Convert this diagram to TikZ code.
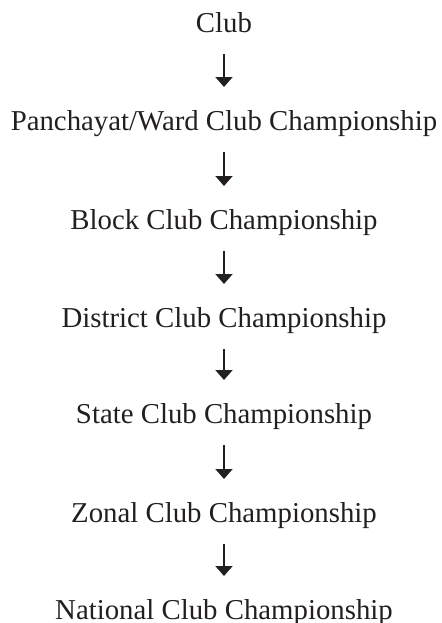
\documentclass[tikz,border=0pt]{standalone}
\usepackage{fontspec}
\setmainfont{Liberation Serif}
\usetikzlibrary{arrows.meta}
\definecolor{ink}{HTML}{231F20}
\begin{document}
\begin{tikzpicture}[x=0.5pt,y=-0.5pt,
  lvl/.style={anchor=base, inner sep=0pt, text=ink, font=\fontsize{14.4pt}{17pt}\selectfont},
  arr/.style={draw=ink, line width=1pt, -{Triangle[width=8.5pt,length=5pt]}, shorten <=11pt, shorten >=21.5pt}]
\useasboundingbox (0,0) rectangle (441,623);
\node[lvl] (n1) at (224,32) {Club};
\node[lvl] (n2) at (224,130) {Panchayat/Ward Club Championship};
\node[lvl] (n3) at (224,229) {Block Club Championship};
\node[lvl] (n4) at (224,327) {District Club Championship};
\node[lvl] (n5) at (224,423) {State Club Championship};
\node[lvl] (n6) at (224,522) {Zonal Club Championship};
\node[lvl] (n7) at (224,619) {National Club Championship};
\draw[arr] (n1.base) -- (n2.base);
\draw[arr] (n2.base) -- (n3.base);
\draw[arr] (n3.base) -- (n4.base);
\draw[arr] (n4.base) -- (n5.base);
\draw[arr] (n5.base) -- (n6.base);
\draw[arr] (n6.base) -- (n7.base);
\end{tikzpicture}
\end{document}
